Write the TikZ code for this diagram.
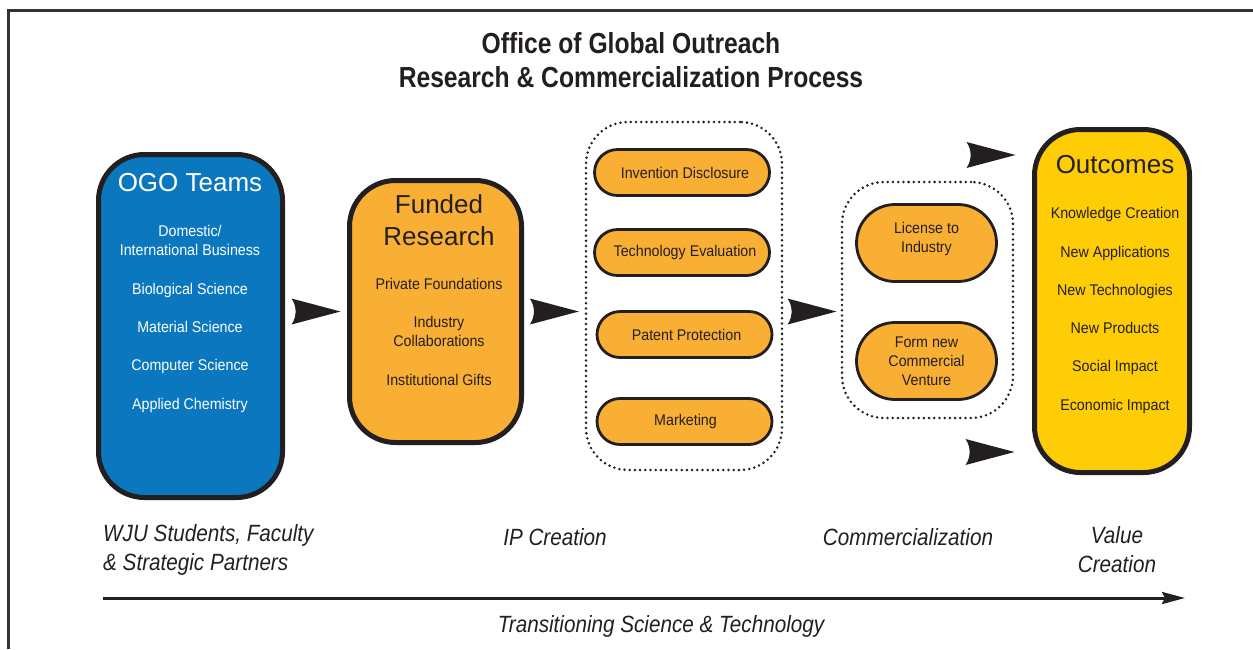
\documentclass[tikz,border=0pt]{standalone}
\usepackage{fontspec}
\setmainfont{Liberation Sans}
\newfontfamily\condfont[FakeStretch=0.92]{Liberation Sans}
\newfontfamily\stagefont[FakeStretch=0.88]{Liberation Sans}
\newfontfamily\titlefont[FakeStretch=0.85]{Liberation Sans}
\usepackage{tikz}
\usetikzlibrary{calc}
\usetikzlibrary{arrows.meta}

\definecolor{ink}{HTML}{231F20}
\definecolor{framegray}{HTML}{333333}
\definecolor{ogoblue}{HTML}{0A77BF}
\definecolor{fundorange}{HTML}{F9AF33}
\definecolor{outyellow}{HTML}{FFCD06}

\tikzset{
  chevron/.pic={\fill[ink] (-24.5,-13) .. controls (-19,-5) and (-19,5) .. (-24.5,13) -- (24.5,0) -- cycle;}
}

\begin{document}
\begin{tikzpicture}[x=1pt,y=-1pt,
    bigbox/.style={draw=ink, line width=5pt, rounded corners=46pt, inner sep=0pt},
    dotbox/.style={draw=ink, line width=2.8pt, line cap=round, dash pattern=on 0pt off 5.2pt, rounded corners=42pt, inner sep=0pt},
    pill/.style={draw=ink, line width=2.8pt, fill=fundorange, text=ink, align=center, inner sep=0pt,
      font=\condfont\fontsize{15.5}{19}\selectfont},
    item/.style={font=\condfont\fontsize{15.5}{19}\selectfont, anchor=base, inner sep=0pt},
    head/.style={font=\fontsize{26}{32}\selectfont, anchor=base, inner sep=0pt},
    stage/.style={font=\stagefont\itshape\fontsize{23.5}{29}\selectfont, anchor=base, inner sep=0pt, text=ink}]
    \useasboundingbox (0,0) rectangle (1253,649);
    \fill[white] (0,0) rectangle (1253,649);
    \draw[line width=2.7pt, color=framegray] (8.7,649) -- (8.7,10.7) -- (1253,10.7);

    \node[font=\titlefont\bfseries\fontsize{29}{34}\selectfont, anchor=base, text=ink] (title1) at (631,53) {Office of Global Outreach};
    \node[font=\titlefont\bfseries\fontsize{29}{34}\selectfont, anchor=base, text=ink] (title2) at (631,87) {Research \& Commercialization Process};

    \node[bigbox, fill=ogoblue, minimum width=184pt, minimum height=343pt] (ogo) at (190.5,326) {};
    \node[bigbox, fill=fundorange, minimum width=172pt, minimum height=262pt] (funded) at (435.5,311.5) {};
    \node[dotbox, minimum width=196pt, minimum height=348pt] (ipbox) at (684,296) {};
    \node[dotbox, minimum width=171pt, minimum height=236pt] (combox) at (927.5,300) {};
    \node[bigbox, fill=outyellow, minimum width=155pt, minimum height=343pt] (outcomes) at (1112,301) {};

    \node[head, text=white] (ogohead) at (190,191.7) {OGO Teams};
    \node[item, text=white] (ogo0a) at (190,236.7) {Domestic/};
    \node[item, text=white] (ogo0b) at (190,255) {International Business};
    \foreach \txt/\yy [count=\i] in {Biological Science/294, Material Science/332, Computer Science/370, Applied Chemistry/409}
        \node[item, text=white] (ogo\i) at (190,\yy) {\txt};

    \node[head, text=ink] (fundhead1) at (439,213.3) {Funded};
    \node[head, text=ink] (fundhead2) at (439,245) {Research};
    \foreach \txt/\yy [count=\i] in {Private Foundations/289, Industry/327.3, Collaborations/346, Institutional Gifts/385}
        \node[item, text=ink] (fund\i) at (439,\yy) {\txt};

    \node[pill, minimum width=175pt, minimum height=46pt, rounded corners=23pt] (invent) at (682,172.5) {\hspace*{6pt}Invention Disclosure};
    \node[pill, minimum width=175pt, minimum height=46pt, rounded corners=23pt] (techeval) at (682,252.5) {\hspace*{6pt}Technology Evaluation};
    \node[pill, minimum width=175pt, minimum height=46pt, rounded corners=23pt] (patent) at (684.5,334.5) {\hspace*{4pt}Patent Protection};
    \node[pill, minimum width=175pt, minimum height=46pt, rounded corners=23pt] (market) at (684.5,421.5) {\hspace*{2pt}Marketing};

    \node[pill, minimum width=140pt, minimum height=77pt, rounded corners=38.5pt] (license) at (926.5,243) {License to\\Industry\\[-7pt]};
    \node[pill, minimum width=140pt, minimum height=77pt, rounded corners=38.5pt] (venture) at (926.5,361) {Form new\\Commercial\\Venture};

    \node[head, text=ink] (outhead) at (1115,173.3) {Outcomes};
    \foreach \txt/\yy [count=\i] in {Knowledge Creation/218.3, New Applications/257, New Technologies/295, New Products/333.3, Social Impact/371.6, Economic Impact/410}
        \node[item, text=ink] (out\i) at (1115,\yy) {\txt};

    \coordinate (a1) at ($(ogo.east)!.5!(funded.west)$);
    \coordinate (a2) at ($(funded.east)!.5!(ipbox.west)$);
    \coordinate (a3) at ($(ipbox.east)!.5!(combox.west)$);
    \pic at (a1 |- funded) {chevron};
    \pic at (a2 |- funded) {chevron};
    \pic at (a3 |- funded) {chevron};
    \pic at (991,155) {chevron};
    \pic at (990,452) {chevron};

    \node[stage, anchor=base west] (wju1) at (103,541) {WJU Students, Faculty};
    \node[stage, anchor=base west] (wju2) at (103,570) {\& Strategic Partners};
    \node[stage] (ipc) at (555,545) {IP Creation};
    \node[stage] (comm) at (908,545) {Commercialization};
    \node[stage] (val1) at (1117,543) {Value};
    \node[stage] (val2) at (1117,572) {Creation};

    \coordinate (tstart) at (103,598);
    \coordinate (tend) at (1185,598);
    \draw[line width=3pt, color=ink, -{Stealth[length=23pt,width=12pt,inset=3pt]}] (tstart) -- (tend);
    \node[stage] (trans) at (661,632) {Transitioning Science \& Technology};
\end{tikzpicture}
\end{document}
